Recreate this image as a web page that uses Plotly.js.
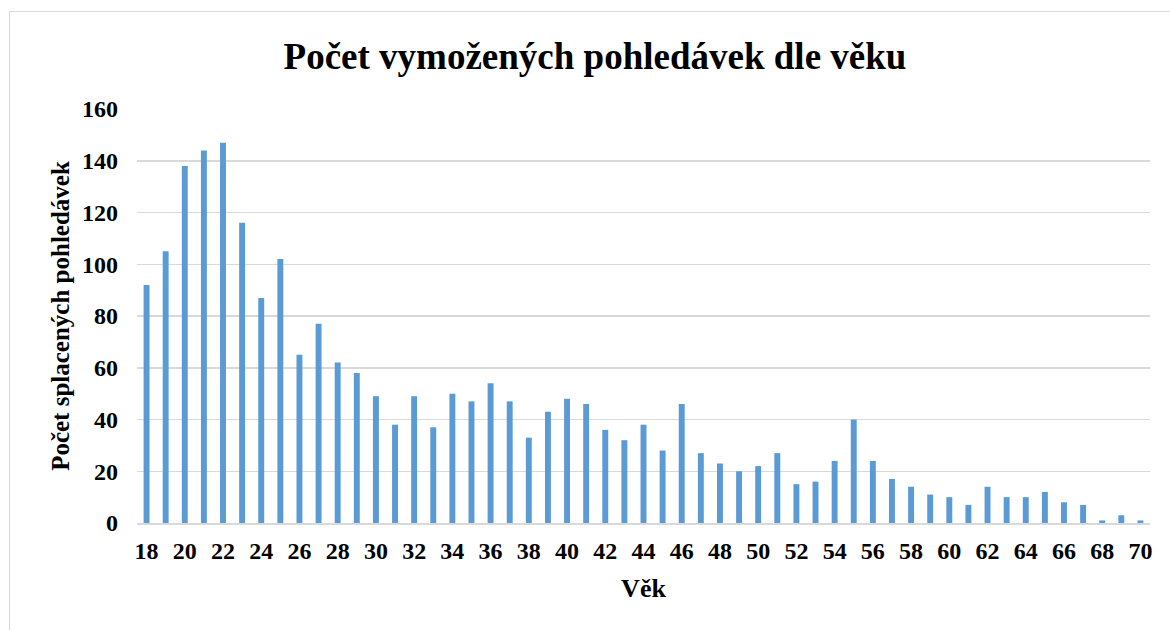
<!DOCTYPE html>
<html>
<head>
<meta charset="utf-8">
<script src="https://cdn.plot.ly/plotly-3.0.1.min.js"></script>
<style>
  html, body { margin: 0; padding: 0; background: #ffffff; }
  #chart { position: absolute; left: 0; top: 0; width: 1170px; height: 630px; }
  #frame { position: absolute; left: 9px; top: 11px; width: 1200px; height: 700px;
           border: 1px solid #d9d9d9; pointer-events: none; box-sizing: border-box; }
</style>
</head>
<body>
<div id="chart"></div>
<div id="frame"></div>
<script>
const ages = [18,19,20,21,22,23,24,25,26,27,28,29,30,31,32,33,34,35,36,37,38,39,40,41,42,43,44,
              45,46,47,48,49,50,51,52,53,54,55,56,57,58,59,60,61,62,63,64,65,66,67,68,69,70];
const counts = [92,105,138,144,147,116,87,102,65,77,62,58,49,38,49,37,50,47,54,47,33,43,48,46,36,32,38,
                28,46,27,23,20,22,27,15,16,24,40,24,17,14,11,10,7,14,10,10,12,8,7,1,3,1];
const xTicks = [18,20,22,24,26,28,30,32,34,36,38,40,42,44,46,48,50,52,54,56,58,60,62,64,66,68,70];
const yTicks = [0,20,40,60,80,100,120,140,160];
const chartTitle = 'Počet vymožených pohledávek dle věku';
const xTitle = 'Věk';
const yTitle = 'Počet splacených pohledávek';

const serif = '"Liberation Serif", "Times New Roman", serif';

const trace = {
  type: 'bar',
  x: ages,
  y: counts,
  width: 0.31,
  marker: { color: '#5b9bd5', line: { width: 0 } },
  hoverinfo: 'x+y'
};

const layout = {
  width: 1170,
  height: 630,
  margin: { l: 137, r: 20, t: 109, b: 107 },
  paper_bgcolor: '#ffffff',
  plot_bgcolor: '#ffffff',
  showlegend: false,
  font: { family: serif, color: '#000000' },
  title: {
    text: '<b>' + chartTitle + '</b>',
    font: { family: serif, size: 37, color: '#000000' },
    x: 595 / 1170, xref: 'container', xanchor: 'center',
    y: 1 - 56 / 630, yref: 'container', yanchor: 'middle'
  },
  xaxis: {
    range: [17.5, 70.5],
    tickmode: 'array',
    tickvals: xTicks,
    ticktext: xTicks.map(v => '<b>' + v + '</b>'),
    tickfont: { family: serif, size: 24, color: '#000000' },
    showgrid: false,
    zeroline: false,
    showline: true,
    linecolor: '#d9d9d9',
    linewidth: 1.5,
    ticks: '',
    ticklabelstandoff: 6,
    fixedrange: true,
    title: {
      text: '<b>' + xTitle + '</b>',
      font: { family: serif, size: 26, color: '#000000' },
      standoff: 15
    }
  },
  yaxis: {
    range: [0, 160],
    tickmode: 'array',
    tickvals: yTicks,
    ticktext: yTicks.map(v => '<b>' + v + '</b>'),
    tickfont: { family: serif, size: 24, color: '#000000' },
    showgrid: true,
    gridcolor: '#d9d9d9',
    gridwidth: 1.5,
    zeroline: false,
    showline: false,
    ticks: '',
    ticklabelstandoff: 18,
    fixedrange: true,
    title: {
      text: '<b>' + yTitle + '</b>',
      font: { family: serif, size: 25, color: '#000000' },
      standoff: 5
    }
  }
};

Plotly.newPlot('chart', [trace], layout, { displayModeBar: false, staticPlot: true });
</script>
</body>
</html>
